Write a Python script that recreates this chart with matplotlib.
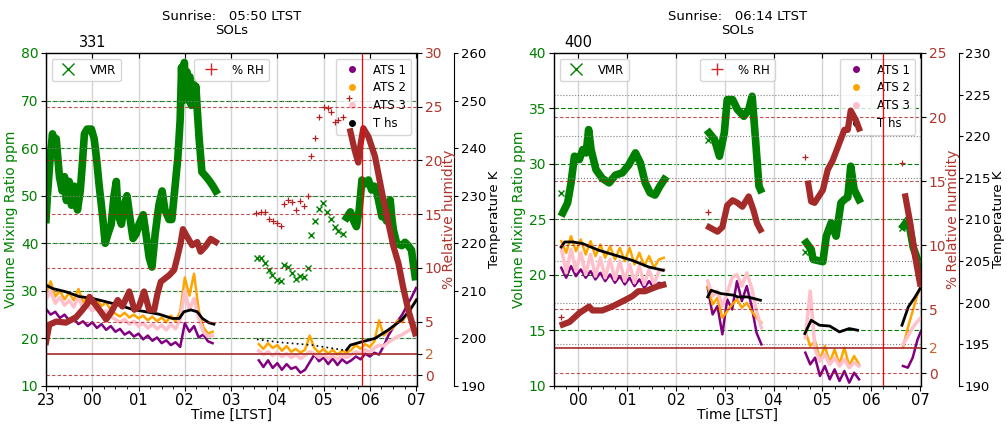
import matplotlib
matplotlib.use("Agg")
import matplotlib.pyplot as plt
from matplotlib.lines import Line2D
from matplotlib.ticker import MultipleLocator

# ---- Sol 331 (left) : time in hours from midnight LTST ----
vmr331_t = [
    [-1.0, -0.97, -0.91, -0.86, -0.82, -0.78, -0.71, -0.65, -0.60, -0.56, -0.50, -0.45, -0.39, -0.32,
     -0.26, -0.22, -0.17, -0.11, -0.02, 0.04, 0.09, 0.15, 0.22, 0.28, 0.34, 0.41, 0.47, 0.52, 0.56,
     0.63, 0.69, 0.75, 0.82, 0.88, 0.95, 1.01, 1.10, 1.16, 1.23, 1.29, 1.36, 1.44, 1.51, 1.57, 1.66,
     1.72, 1.79, 1.85, 1.90, 1.93, 1.96, 1.99, 2.02, 2.05, 2.08, 2.11, 2.14, 2.17, 2.20, 2.24, 2.27,
     2.31, 2.37, 2.46, 2.54, 2.61, 2.67],
    [5.50, 5.58, 5.66, 5.71, 5.77, 5.83, 5.90, 5.97, 6.04, 6.10, 6.15, 6.21, 6.26, 6.31, 6.36, 6.40,
     6.44, 6.48, 6.51, 6.58, 6.69, 6.76, 6.83, 6.90, 6.98],
]
vmr331_v = [
    [45, 50, 58, 63, 61, 62, 54, 51, 54, 49, 53, 48, 52, 47,
     51, 56, 63, 64, 64, 62, 58, 52, 46, 40, 42, 44, 50, 53, 46,
     44, 48, 50, 45, 41, 42, 44, 46, 42, 37, 35, 42, 48, 51, 47, 45,
     45, 52, 58, 66, 77, 70, 78, 71, 76, 70, 75, 69, 74, 70, 73, 68,
     62, 55, 54, 53, 52, 51],
    [45.4, 46.6, 44.5, 43.5, 47.0, 53.3, 52.5, 53.3, 51.2, 52.0, 50.8, 48.0, 45.6, 47.5, 44.7, 48.0,
     49.1, 45.0, 42.8, 40.0, 39.5, 40.2, 39.5, 38.6, 33.0],
]
vmr331_pt_t = [3.56, 3.64, 3.73, 3.82, 3.89, 3.99, 4.08, 4.15, 4.23, 4.32, 4.41, 4.48, 4.58, 4.66,
               4.73, 4.82, 4.91, 4.99, 5.08, 5.16, 5.24, 5.32, 5.42]
vmr331_pt_v = [37.0, 37.0, 35.9, 34.4, 33.3, 32.3, 32.1, 35.5, 35.0, 33.8, 32.5, 33.2, 33.0, 34.7,
               41.7, 44.6, 47.2, 48.4, 46.5, 45.0, 43.4, 42.5, 41.9]

rh331_t = [
    [-1.0, -0.93, -0.78, -0.57, -0.35, -0.21, -0.10, -0.06, 0.01, 0.15, 0.30, 0.40, 0.55, 0.65, 0.80,
     0.91, 1.01, 1.12, 1.23, 1.34, 1.41, 1.48, 1.66, 1.77, 1.84, 1.91, 1.96, 2.05, 2.16, 2.27, 2.34,
     2.45, 2.56, 2.67],
    [5.58, 5.67, 5.75, 5.80, 5.86, 5.97, 6.11, 6.26, 6.40, 6.51, 6.62, 6.72, 6.83, 6.94, 6.98],
]
rh331_v = [
    [3.1, 4.7, 5.0, 4.9, 5.4, 6.1, 6.7, 7.3, 6.9, 6.1, 5.2, 5.8, 7.0, 6.4, 7.8,
     6.1, 6.4, 7.8, 6.1, 6.1, 7.6, 8.7, 9.3, 9.8, 11.0, 12.3, 13.6, 12.9, 12.1, 12.4, 11.5,
     12.0, 12.7, 12.4],
    [22.7, 21.0, 19.8, 21.5, 23.0, 22.2, 20.4, 17.1, 14.2, 12.0, 10.4, 8.2, 6.1, 4.5, 3.9],
]
rh331_pt_t = [3.55, 3.65, 3.74, 3.81, 3.91, 3.99, 4.09, 4.15, 4.23, 4.32, 4.40, 4.50, 4.57, 4.66,
              4.73, 4.82, 4.91, 5.00, 5.09, 5.16, 5.24, 5.32, 5.41, 5.54]
rh331_pt_v = [15.1, 15.2, 15.2, 14.5, 14.4, 14.2, 13.9, 15.9, 16.3, 16.1, 15.4, 16.2, 15.8, 16.7,
              20.4, 22.1, 24.0, 25.0, 24.9, 24.5, 23.6, 23.8, 24.0, 25.8]

ths331_t = [
    [-1.0, -0.86, -0.57, -0.28, 0.01, 0.30, 0.58, 0.87, 1.16, 1.44, 1.73, 1.88, 1.98, 2.13, 2.27,
     2.38, 2.52, 2.63],
    [5.50, 5.58, 5.83, 6.11, 6.40, 6.69, 6.87, 7.01],
]
ths331_v = [
    [211.2, 210.5, 209.8, 208.8, 208.4, 207.7, 207.0, 206.1, 205.6, 205.1, 204.2, 204.2, 205.6, 206.0,
     205.6, 204.2, 203.3, 203.0],
    [197.6, 198.6, 199.3, 200.0, 201.8, 203.9, 206.0, 208.1],
]
ths331_dot_t = [3.56, 4.03, 4.75, 5.40, 5.50]
ths331_dot_v = [199.8, 199.2, 198.6, 197.6, 197.6]

ats331_t = [
    [-1.0, -0.9, -0.8, -0.7, -0.6, -0.5, -0.4, -0.3, -0.2, -0.1, 0.0, 0.1, 0.2, 0.3, 0.4, 0.5, 0.6,
     0.7, 0.8, 0.9, 1.0, 1.1, 1.2, 1.3, 1.4, 1.5, 1.6, 1.7, 1.8, 1.9, 2.0, 2.1, 2.2, 2.3, 2.4, 2.5,
     2.6],
    [3.6, 3.7, 3.8, 3.9, 4.0, 4.1, 4.2, 4.3, 4.4, 4.5, 4.6, 4.7, 4.8, 4.9, 5.0, 5.1, 5.2, 5.3, 5.4,
     5.5, 5.6, 5.7, 5.8, 5.9, 6.0, 6.1, 6.2, 6.3, 6.4, 6.5, 6.6, 6.7, 6.8, 6.9, 7.0],
]
ats1_331 = [
    [206.2, 205.0, 205.6, 204.3, 205.0, 203.8, 204.2, 203.0, 203.6, 202.6, 203.4, 202.2, 203.0, 201.8,
     202.6, 201.4, 202.0, 200.8, 201.4, 200.4, 201.0, 199.8, 200.6, 199.5, 200.2, 199.0, 199.6, 198.6,
     199.2, 198.2, 203.2, 201.4, 202.6, 200.2, 200.8, 199.4, 199.0],
    [195.4, 194.0, 195.4, 193.8, 194.8, 193.4, 194.6, 193.6, 194.0, 192.8, 193.4, 195.0, 196.6, 195.2,
     196.0, 194.6, 195.8, 194.4, 195.6, 194.8, 195.4, 196.2, 195.6, 196.8, 196.2, 197.0, 196.6, 198.4,
     200.6, 202.2, 203.6, 205.0, 206.8, 208.6, 210.6],
]
ats2_331 = [
    [209.5, 212.0, 208.8, 210.0, 208.2, 209.6, 208.0, 210.4, 207.6, 208.6, 207.2, 208.2, 206.8, 207.6,
     206.0, 205.2, 204.6, 205.4, 204.4, 205.0, 204.2, 204.8, 203.8, 204.6, 203.6, 204.4, 203.4, 204.8,
     203.6, 205.6, 212.8, 209.0, 213.6, 206.0, 202.4, 201.0, 201.4],
    [198.8, 197.8, 199.0, 198.0, 198.6, 197.4, 198.4, 197.2, 197.8, 197.0, 197.6, 200.6, 198.0, 197.0,
     197.8, 196.8, 197.6, 196.6, 197.4, 197.0, 197.6, 198.6, 197.8, 198.8, 198.2, 199.4, 203.8, 200.6,
     201.6, 202.2, 203.8, 203.4, 205.2, 206.4, 208.2],
]
ats3_331 = [
    [208.2, 210.0, 207.4, 208.6, 207.0, 208.0, 206.6, 208.8, 206.2, 207.0, 205.8, 206.6, 205.2, 205.8,
     204.6, 204.0, 203.4, 204.0, 203.0, 203.6, 202.6, 203.2, 202.2, 203.0, 202.0, 202.8, 201.8, 203.0,
     202.0, 204.0, 210.0, 206.0, 208.4, 204.2, 201.4, 200.4, 200.6],
    [197.4, 196.6, 197.2, 196.4, 197.0, 196.2, 196.8, 196.0, 196.6, 195.8, 196.4, 197.2, 196.8, 196.0,
     196.6, 195.8, 196.4, 195.6, 196.4, 196.0, 196.6, 197.2, 196.8, 197.6, 197.2, 198.0, 198.6, 198.4,
     199.2, 199.8, 200.4, 200.8, 201.4, 202.0, 202.6],
]

# ---- Sol 400 (right) ----
vmr400_t = [
    [-0.32, -0.22, -0.15, -0.08, 0.02, 0.09, 0.16, 0.21, 0.26, 0.36, 0.49, 0.63, 0.76, 0.90, 1.03,
     1.17, 1.27, 1.37, 1.47, 1.57, 1.67, 1.76],
    [2.68, 2.79, 2.89, 2.99, 3.05, 3.16, 3.26, 3.39, 3.49, 3.56, 3.63, 3.70, 3.73],
    [4.67, 4.77, 4.81, 5.01, 5.08, 5.18, 5.28, 5.38, 5.45, 5.52, 5.58, 5.65, 5.75],
    [6.66, 6.76, 6.86, 6.97, 7.02],
]
vmr400_v = [
    [25.6, 26.5, 28.3, 30.7, 30.4, 31.3, 31.0, 33.1, 31.3, 29.5, 28.7, 28.3, 29.0, 29.2, 29.9,
     31.0, 30.1, 28.3, 27.4, 27.2, 28.0, 28.6],
    [32.8, 32.2, 30.7, 32.8, 35.8, 35.8, 34.9, 34.3, 34.9, 36.1, 32.2, 28.0, 27.7],
    [22.9, 22.3, 21.4, 21.2, 23.5, 24.7, 23.5, 26.5, 26.8, 27.0, 29.8, 27.7, 26.8],
    [24.4, 25.0, 22.5, 21.1, 19.8],
]
vmr400_pt_t = [-0.35, 2.65, 4.64, 6.63]
vmr400_pt_v = [27.4, 32.2, 22.1, 24.2]

rh400_t = [
    [-0.32, -0.18, 0.02, 0.22, 0.29, 0.49, 0.69, 0.90, 1.10, 1.23, 1.37, 1.50, 1.64, 1.74],
    [2.68, 2.85, 2.95, 3.05, 3.16, 3.26, 3.36, 3.49, 3.59, 3.66, 3.73],
    [4.71, 4.77, 4.84, 5.01, 5.11, 5.21, 5.35, 5.45, 5.52, 5.58, 5.68, 5.75],
    [6.70, 6.80, 6.90, 7.00],
]
rh400_v = [
    [3.8, 4.0, 4.7, 5.2, 4.9, 4.9, 5.2, 5.6, 6.0, 6.4, 6.4, 6.6, 6.8, 6.9],
    [11.4, 11.05, 11.4, 13.1, 13.5, 13.3, 13.0, 13.8, 12.7, 11.7, 11.2],
    [14.8, 13.4, 13.3, 14.3, 15.9, 16.6, 18.0, 19.0, 19.0, 20.5, 19.8, 19.1],
    [13.8, 11.7, 9.1, 7.0],
]
rh400_pt_t = [-0.35, 2.65, 4.64, 6.63]
rh400_pt_v = [4.4, 12.6, 16.9, 16.4]

ths400_t = [
    [-0.35, -0.28, -0.11, 0.09, 0.42, 0.76, 1.10, 1.44, 1.74],
    [2.65, 2.72, 2.92, 3.19, 3.26, 3.46, 3.60, 3.73],
    [4.64, 4.77, 4.94, 5.15, 5.35, 5.55, 5.72],
    [6.63, 6.76, 6.90, 7.00],
]
ths400_v = [
    [206.7, 207.3, 207.3, 207.1, 206.3, 205.7, 205.1, 204.3, 203.9],
    [200.7, 201.5, 201.1, 200.9, 200.7, 200.7, 200.5, 200.3],
    [196.3, 197.9, 197.3, 197.2, 196.5, 196.9, 196.7],
    [197.3, 199.5, 200.7, 201.7],
]

ats400_t = [
    [-0.35, -0.25, -0.15, -0.05, 0.05, 0.15, 0.25, 0.35, 0.45, 0.55, 0.65, 0.75, 0.85, 0.95, 1.05,
     1.15, 1.25, 1.35, 1.45, 1.55, 1.65, 1.75],
    [2.65, 2.75, 2.85, 2.95, 3.05, 3.15, 3.25, 3.35, 3.45, 3.55, 3.65, 3.75],
    [4.65, 4.75, 4.85, 4.95, 5.05, 5.15, 5.25, 5.35, 5.45, 5.55, 5.65, 5.75],
    [6.65, 6.75, 6.85, 6.95, 7.02],
]
ats1_400 = [
    [204.2, 203.0, 204.4, 203.2, 204.0, 203.0, 203.8, 202.8, 203.6, 202.6, 203.4, 202.4, 203.2, 202.2,
     203.0, 202.0, 202.8, 201.8, 202.6, 201.8, 202.4, 202.2],
    [201.8, 198.6, 199.6, 196.2, 200.4, 199.2, 202.6, 200.2, 202.0, 199.6, 196.4, 195.0],
    [194.0, 192.6, 193.4, 191.2, 192.4, 190.8, 192.0, 190.6, 191.8, 190.4, 191.6, 190.8],
    [192.4, 192.2, 193.4, 195.6, 196.6],
]
ats2_400 = [
    [207.4, 206.0, 208.0, 206.2, 207.6, 205.8, 207.4, 205.6, 207.0, 205.4, 206.8, 205.2, 206.6, 205.0,
     206.6, 204.6, 206.0, 204.4, 205.6, 204.2, 205.2, 205.4],
    [202.0, 199.8, 200.6, 198.2, 199.0, 199.8, 200.4, 199.4, 200.0, 199.0, 198.2, 197.6],
    [196.6, 194.8, 195.4, 193.2, 194.8, 192.8, 194.4, 192.6, 194.6, 192.4, 193.6, 192.6],
    [194.6, 197.0, 199.0, 201.0, 201.8],
]
ats3_400 = [
    [206.6, 203.6, 206.4, 203.8, 206.0, 203.4, 205.8, 203.2, 205.4, 203.0, 205.2, 202.8, 205.0, 202.6,
     204.6, 202.4, 204.4, 202.2, 204.0, 202.2, 203.8, 204.0],
    [202.6, 200.8, 201.4, 199.6, 201.2, 203.0, 203.4, 202.0, 203.6, 201.8, 199.0, 197.0],
    [195.8, 201.4, 194.4, 193.0, 193.8, 192.6, 193.4, 192.4, 193.2, 192.2, 192.8, 192.4],
    [195.0, 196.0, 197.0, 197.8, 198.2],
]

SOLS = ["331", "400"]
SUNRISE = ["05:50", "06:14"]
SUNRISE_H = [5 + 50 / 60, 6 + 14 / 60]
HOUR_LABELS = ["23", "00", "01", "02", "03", "04", "05", "06", "07"]

GREEN = "green"
BROWN = "#a52a2a"
RHTXT = "#b0352b"
FS_TICK = 10
FS_LAB = 10


def draw_panel(fig, rect, p):
    ax = fig.add_axes(rect)
    ax_t = ax.twinx()
    ax_rh = ax.twinx()

    # water vapour volume mixing ratio
    for t, v in zip(p["vmr_t"], p["vmr_v"]):
        ax.plot(t, v, color=GREEN, lw=5.5)
    ax.plot(p["vmr_pt_t"], p["vmr_pt_v"], "x", color=GREEN, ms=4, mew=1)
    ax.set_xlim(*p["xlim"])
    ax.set_ylim(*p["vmr_lim"])
    ax.set_yticks(p["vmr_ticks"])
    for y in p["vmr_ticks"][1:-1]:
        ax.axhline(y, color=GREEN, lw=0.8, ls=(0, (4, 2)), zorder=0)
    ax.tick_params(axis="y", labelcolor=GREEN, labelsize=FS_TICK, pad=2)
    ax.set_ylabel("Volume Mixing Ratio ppm", color=GREEN, fontsize=FS_LAB, labelpad=2)
    ax.set_xticks(p["hours"])
    ax.set_xticklabels(p["hour_labels"])
    ax.xaxis.set_minor_locator(MultipleLocator(0.25))
    ax.tick_params(axis="x", labelsize=10.5, pad=1.5)
    ax.set_xlabel("Time [LTST]", fontsize=FS_LAB, labelpad=0)
    ax.grid(axis="x", color="#d3d3d3", lw=1)
    ax.legend([Line2D([], [], ls="none", marker="x", color=GREEN, ms=8)], ["VMR"],
              loc="upper left", fontsize=8.5)

    # temperatures
    for k, t in enumerate(p["ats_t"]):
        ax_t.plot(t, p["ats1"][k], color="purple", lw=1.8)
        ax_t.plot(t, p["ats2"][k], color="orange", lw=1.8)
        ax_t.plot(t, p["ats3"][k], color="pink", lw=2.5)
    for t, v in zip(p["ths_t"], p["ths_v"]):
        ax_t.plot(t, v, color="black", lw=2)
    if p["ths_dot_t"]:
        ax_t.plot(p["ths_dot_t"], p["ths_dot_v"], color="black", lw=1.2, ls=(0, (1, 2)))
    ax_t.set_ylim(*p["t_lim"])
    ax_t.set_yticks(p["t_ticks"])
    for y in p["t_ticks"][1:-1]:
        ax_t.axhline(y, color="grey", lw=0.8, ls=":", zorder=0)
    ax_t.spines["right"].set_position(("outward", 27))
    ax_t.tick_params(axis="y", labelsize=9.5, pad=1.5, length=3)
    ax_t.set_ylabel("Temperature K", fontsize=9.5, labelpad=1)
    ats_handles = [Line2D([], [], ls="none", marker="o", ms=4, color=c)
                   for c in ("purple", "orange", "pink", "black")]
    ax_t.legend(ats_handles, ["ATS 1", "ATS 2", "ATS 3", "T hs"], loc="upper right",
                fontsize=8.5, labelspacing=0.4)

    # relative humidity
    for t, v in zip(p["rh_t"], p["rh_v"]):
        ax_rh.plot(t, v, color=BROWN, lw=4.5)
    ax_rh.plot(p["rh_pt_t"], p["rh_pt_v"], "+", color="firebrick", ms=4, mew=0.9)
    ax_rh.set_ylim(*p["rh_lim"])
    ax_rh.set_yticks(p["rh_ticks"])
    for y in p["rh_ticks"]:
        if y == 2:
            ax_rh.axhline(y, color=BROWN, lw=1.2, zorder=0)
        elif y < p["rh_lim"][1]:
            ax_rh.axhline(y, color="firebrick", lw=0.8, ls=(0, (3, 2)), alpha=0.8, zorder=0)
    ax_rh.tick_params(axis="y", labelcolor=RHTXT, labelsize=FS_TICK, pad=2)
    for lab, y in zip(ax_rh.get_yticklabels(), p["rh_ticks"]):
        if y == 2:
            lab.set_color("#c8642a")
    ax_rh.set_ylabel("% Relative humidity", color=RHTXT, fontsize=FS_LAB, labelpad=0)
    ax_rh.legend([Line2D([], [], ls="none", marker="+", color="tab:red", ms=8)], ["% RH"],
                 loc="upper center", fontsize=8.5)

    # top axis: sol number at midnight
    ax_top = ax.twiny()
    ax_top.set_xlim(*p["xlim"])
    ax_top.set_xticks(p["hours"])
    ax_top.set_xticklabels([p["sol"] if h == 0 else "" for h in p["hours"]])
    ax_top.tick_params(axis="x", labelsize=10.5, direction="in", pad=2)
    ax_top.set_xlabel(f"Sunrise:   {p['sunrise']} LTST\nSOLs", fontsize=9.5, labelpad=1,
                      linespacing=1.1)
    ax_top.axvline(p["sunrise_h"], color="red", lw=0.9)


fig = plt.figure(figsize=(10.07, 4.26), dpi=100)

left = dict(
    sol=SOLS[0], sunrise=SUNRISE[0], sunrise_h=SUNRISE_H[0],
    xlim=(-1.0, 7.02), hours=list(range(-1, 8)), hour_labels=HOUR_LABELS,
    vmr_t=vmr331_t, vmr_v=vmr331_v, vmr_pt_t=vmr331_pt_t, vmr_pt_v=vmr331_pt_v,
    vmr_lim=(10, 80), vmr_ticks=[10, 20, 30, 40, 50, 60, 70, 80],
    rh_t=rh331_t, rh_v=rh331_v, rh_pt_t=rh331_pt_t, rh_pt_v=rh331_pt_v,
    rh_lim=(-1, 30), rh_ticks=[0, 2, 5, 10, 15, 20, 25, 30],
    ths_t=ths331_t, ths_v=ths331_v, ths_dot_t=ths331_dot_t, ths_dot_v=ths331_dot_v,
    ats_t=ats331_t, ats1=ats1_331, ats2=ats2_331, ats3=ats3_331,
    t_lim=(190, 260), t_ticks=[190, 200, 210, 220, 230, 240, 250, 260],
)
right = dict(
    sol=SOLS[1], sunrise=SUNRISE[1], sunrise_h=SUNRISE_H[1],
    xlim=(-0.5, 7.02), hours=list(range(0, 8)), hour_labels=HOUR_LABELS[1:],
    vmr_t=vmr400_t, vmr_v=vmr400_v, vmr_pt_t=vmr400_pt_t, vmr_pt_v=vmr400_pt_v,
    vmr_lim=(10, 40), vmr_ticks=[10, 15, 20, 25, 30, 35, 40],
    rh_t=rh400_t, rh_v=rh400_v, rh_pt_t=rh400_pt_t, rh_pt_v=rh400_pt_v,
    rh_lim=(-1, 25), rh_ticks=[0, 2, 5, 10, 15, 20, 25],
    ths_t=ths400_t, ths_v=ths400_v, ths_dot_t=[], ths_dot_v=[],
    ats_t=ats400_t, ats1=ats1_400, ats2=ats2_400, ats3=ats3_400,
    t_lim=(190, 230), t_ticks=[190, 195, 200, 205, 210, 215, 220, 225, 230],
)

draw_panel(fig, [0.0457, 0.0939, 0.3684, 0.7817], left)
draw_panel(fig, [0.5501, 0.0939, 0.3645, 0.7817], right)

fig.savefig("out.png", dpi=100)
